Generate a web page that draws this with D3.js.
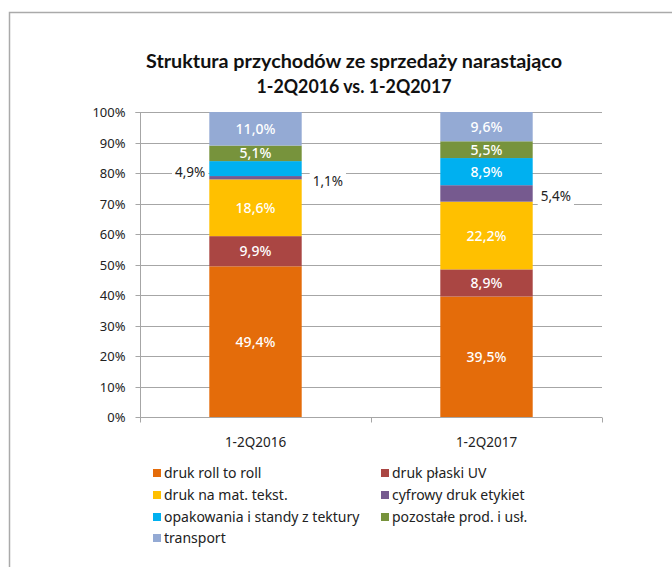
<!DOCTYPE html>
<html><head><meta charset="utf-8">
<script src="https://cdn.jsdelivr.net/npm/d3@7"></script>
<style>
html,body{margin:0;padding:0;background:#fff;}
svg{display:block;}
</style></head>
<body>
<script>
const categories = ["1-2Q2016", "1-2Q2017"];
const seriesNames = ["druk roll to roll", "druk płaski UV", "druk na mat. tekst.", "cyfrowy druk etykiet", "opakowania i standy z tektury", "pozostałe prod. i usł.", "transport"];
const values2016 = [49.4, 9.9, 18.6, 1.1, 4.9, 5.1, 11.0];
const values2017 = [39.5, 8.9, 22.2, 5.4, 8.9, 5.5, 9.6];
const colors = ["#E46C0A", "#AA4643", "#FFC000", "#765A8F", "#00B0F0", "#77933C", "#94AAD4"];
const yTicks = [0, 10, 20, 30, 40, 50, 60, 70, 80, 90, 100];
// labels placed outside the bar: [category index, series index, side]
const outsideLabels = [[0, 3, "right"], [0, 4, "left"], [1, 3, "right"]];

const W = 672, H = 567;
const svg = d3.select("body").append("svg").attr("width", W).attr("height", H);
svg.append("rect").attr("width", W).attr("height", H).attr("fill", "#fff");
// outer frame (top and left visible)
svg.append("path").attr("d", "M9.5,567 L9.5,12.5 L672,12.5").attr("fill", "none").attr("stroke", "#aaa").attr("stroke-width", 1.5);

const fontLbl = "'Noto Sans', 'DejaVu Sans', sans-serif";
const fontTitle = "Lato, 'DejaVu Sans', sans-serif";

svg.append("text").attr("x", 354).attr("y", 68).attr("text-anchor", "middle")
  .attr("font-family", fontTitle).attr("font-weight", "bold").attr("font-size", 19)
  .attr("textLength", 416).attr("lengthAdjust", "spacingAndGlyphs")
  .attr("fill", "#111").text("Struktura przychodów ze sprzedaży narastająco");
svg.append("text").attr("x", 354).attr("y", 93).attr("text-anchor", "middle")
  .attr("font-family", fontTitle).attr("font-weight", "bold").attr("font-size", 19)
  .attr("textLength", 195).attr("lengthAdjust", "spacingAndGlyphs")
  .attr("fill", "#111").text("1-2Q2016 vs. 1-2Q2017");

const x0 = 140, x1 = 602, yTop = 112, yBot = 417;
const x = d3.scaleBand().domain(categories).range([x0, x1]).paddingInner(0).paddingOuter(0);
const barW = x.bandwidth() * 0.4;
const y = d3.scaleLinear().domain([0, 100]).range([yBot, yTop]);

// gridlines
svg.append("g").selectAll("line").data(yTicks.filter(d => d > 0)).join("line")
  .attr("x1", x0).attr("x2", x1).attr("y1", d => Math.round(y(d)) + 0.5).attr("y2", d => Math.round(y(d)) + 0.5)
  .attr("stroke", "#a6a6a6").attr("stroke-width", 1);

// y axis
const yAxis = svg.append("g").attr("transform", `translate(${x0 + 0.5},0)`)
  .call(d3.axisLeft(y).tickValues(yTicks).tickFormat(d => d + "%").tickSize(5).tickPadding(10));
yAxis.select(".domain").attr("stroke", "#a6a6a6").attr("d", `M-5,${y(100)+0.5}H0V${y(0)+0.5}`);
yAxis.selectAll(".tick line").attr("stroke", "#a6a6a6");
yAxis.selectAll(".tick text").attr("font-family", fontLbl).attr("font-size", 13).attr("fill", "#222");
yAxis.selectAll(".tick").attr("transform", d => `translate(0,${Math.round(y(d)) + 0.5})`);

// x axis
const xAxisG = svg.append("g").attr("transform", `translate(0,${yBot + 0.5})`);
xAxisG.append("line").attr("x1", x0).attr("x2", x1).attr("stroke", "#a6a6a6");
xAxisG.selectAll("line.t").data([x0, x0 + x.bandwidth(), x1]).join("line").attr("class", "t")
  .attr("x1", d => Math.round(d) + 0.5).attr("x2", d => Math.round(d) + 0.5).attr("y1", 0).attr("y2", 5).attr("stroke", "#a6a6a6");
xAxisG.selectAll("text").data(categories).join("text")
  .attr("x", d => x(d) + x.bandwidth() / 2).attr("y", 25).attr("dy", "0.36em").attr("text-anchor", "middle")
  .attr("font-family", fontLbl).attr("font-size", 13.5).attr("fill", "#222").text(d => d);

// stacked data
const table = categories.map((c, i) => {
  const vals = i === 0 ? values2016 : values2017;
  const o = { cat: c };
  seriesNames.forEach((s, j) => o[s] = vals[j]);
  return o;
});
const stack = d3.stack().keys(seriesNames)(table);

const gBars = svg.append("g");
stack.forEach((layer, si) => {
  gBars.selectAll(null).data(layer).join("rect")
    .attr("x", d => x(d.data.cat) + (x.bandwidth() - barW) / 2)
    .attr("width", barW)
    .attr("y", d => y(d[1]))
    .attr("height", d => y(d[0]) - y(d[1]))
    .attr("fill", colors[si]);
});

const fmt = v => v.toFixed(1).replace(".", ",") + "%";
const isOutside = (ci, si) => outsideLabels.some(o => o[0] === ci && o[1] === si);

const gLbl = svg.append("g");
stack.forEach((layer, si) => {
  layer.forEach((d, ci) => {
    const v = d[1] - d[0];
    const mid = y((d[0] + d[1]) / 2);
    const cx = x(d.data.cat) + x.bandwidth() / 2;
    if (!isOutside(ci, si)) {
      gLbl.append("text").attr("x", cx).attr("y", mid).attr("dy", "0.36em").attr("text-anchor", "middle")
        .attr("font-family", fontLbl).attr("font-size", 14).attr("font-weight", 500).attr("fill", "#fff").text(fmt(v));
    } else {
      const o = outsideLabels.find(o => o[0] === ci && o[1] === si);
      const left = o[2] === "left";
      const tx = left ? cx - barW / 2 - 4 : cx + barW / 2 + (ci === 0 ? 11 : 8);
      const ty = mid + (left ? 4 : 3);
      const t = gLbl.append("text").attr("x", tx).attr("y", ty).attr("dy", "0.36em")
        .attr("text-anchor", left ? "end" : "start")
        .attr("font-family", fontLbl).attr("font-size", 13.5).attr("fill", "#222").text(fmt(v));
      const bb = t.node().getBBox();
      gLbl.insert("rect", "text").attr("x", bb.x - 3).attr("y", bb.y).attr("width", bb.width + 6).attr("height", bb.height).attr("fill", "#fff");
    }
  });
});

// legend
const legCols = [153, 381];
const legRows = [473, 495, 517, 538];
const gLeg = svg.append("g");
seriesNames.forEach((s, i) => {
  const cx = legCols[i % 2], cy = legRows[Math.floor(i / 2)];
  gLeg.append("rect").attr("x", cx).attr("y", cy - 4).attr("width", 8).attr("height", 8).attr("fill", colors[i]);
  gLeg.append("text").attr("x", cx + 11).attr("y", cy).attr("dy", "0.36em")
    .attr("font-family", fontLbl).attr("font-size", 14).attr("fill", "#222").text(s);
});
</script>
</body></html>
